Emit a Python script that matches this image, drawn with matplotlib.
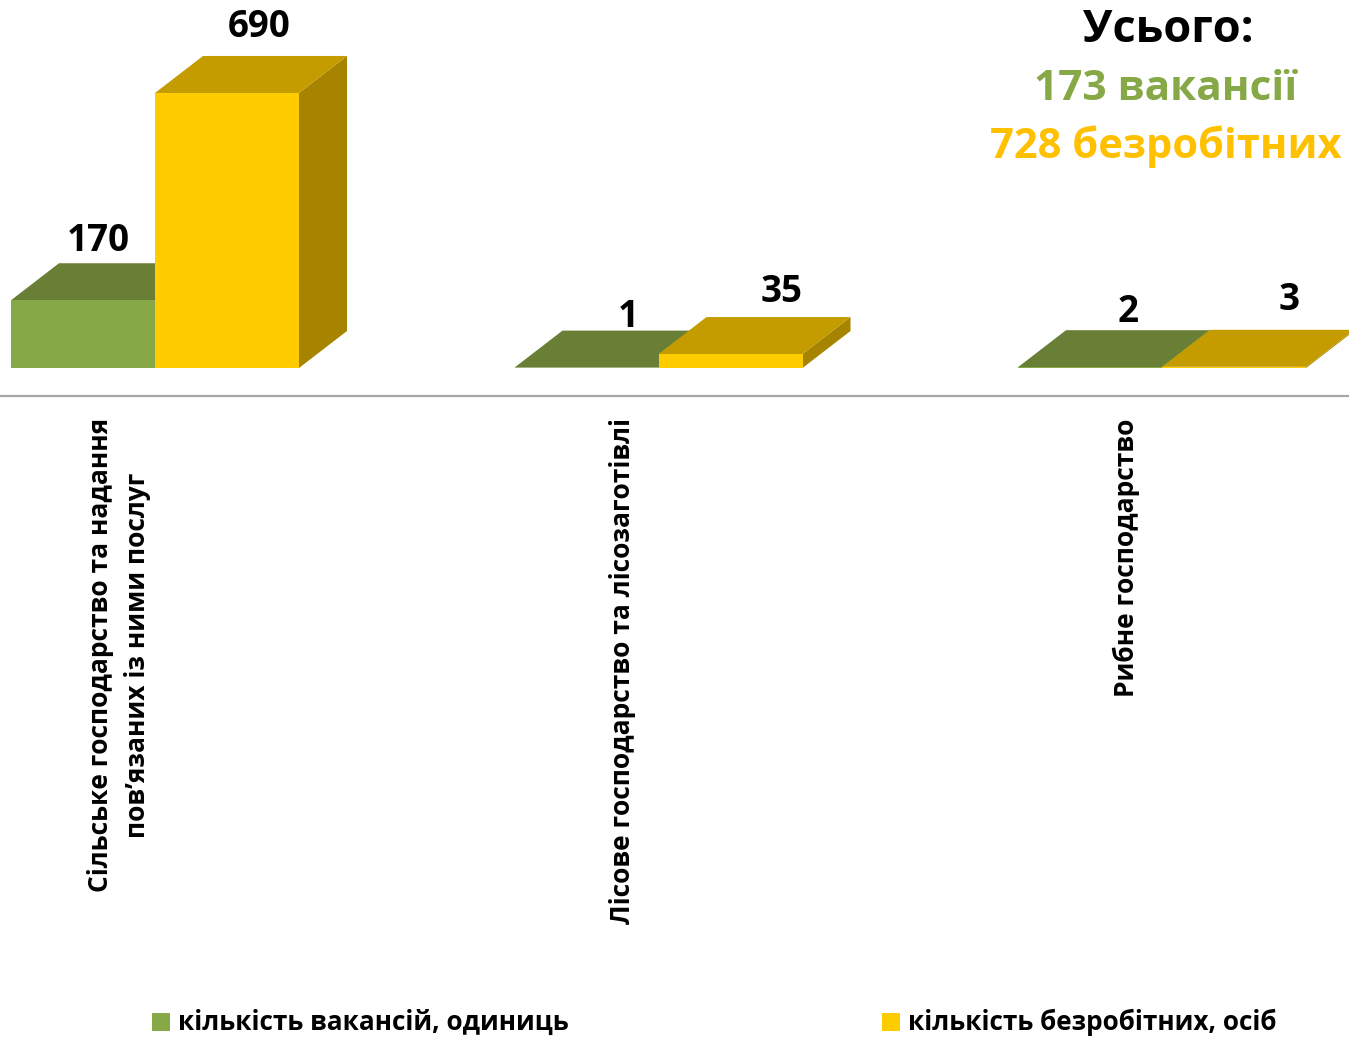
import numpy as np
import matplotlib
matplotlib.use("Agg")
import matplotlib.pyplot as plt
from matplotlib.patches import Polygon, Rectangle

# data
categories = ["Сільське господарство та надання\nпов’язаних із ними послуг",
              "Лісове господарство та лісозаготівлі",
              "Рибне господарство"]
vacancies = [170, 1, 2]
unemployed = [690, 35, 3]
series_names = ["кількість вакансій, одиниць", "кількість безробітних, осіб"]
total_title = "Усього:"
total_vac = "173 вакансії"
total_unemp = "728 безробітних"

# colours: front, top, side
green = ("#86A846", "#687F35", "#5C722E")
yellow = ("#FFCC00", "#C49C00", "#A68400")

plt.rcParams['font.family'] = ['Open Sans', 'DejaVu Sans']
plt.rcParams['font.weight'] = 'bold'

W, H = 1349, 1037
fig = plt.figure(figsize=(W / 100, H / 100), dpi=100)
ax = fig.add_axes([0, 1 - 396 / H, 1, 396 / H])

px_per_unit = 0.3986      # vertical pixels per value unit
px_per_cat = 503.5        # horizontal pixels per category
ax.set_ylim(-28 / px_per_unit, 368 / px_per_unit)
ax.set_xlim(-155 / px_per_cat, (W - 155) / px_per_cat)

bw = 144 / px_per_cat
ddx = 48 / px_per_cat
ddy = 37 / px_per_unit


def bar3d(x0, h, cols):
    x1 = x0 + bw
    front = [(x0, 0), (x1, 0), (x1, h), (x0, h)]
    top = [(x0, h), (x1, h), (x1 + ddx, h + ddy), (x0 + ddx, h + ddy)]
    side = [(x1, 0), (x1 + ddx, ddy), (x1 + ddx, h + ddy), (x1, h)]
    ax.add_patch(Polygon(side, closed=True, fc=cols[2], ec='none'))
    ax.add_patch(Polygon(top, closed=True, fc=cols[1], ec='none'))
    ax.add_patch(Polygon(front, closed=True, fc=cols[0], ec='none'))


# label offsets in pixels (dx, dy) from the back-top centre of each bar
vac_off = [(-9, 12), (18, 4), (14, 8)]
unemp_off = [(8, 19), (27, 15), (31, 20)]

for i in range(len(categories)):
    bar3d(i - bw, vacancies[i], green)
    bar3d(i, unemployed[i], yellow)
    for x0, v, off in [(i - bw, vacancies[i], vac_off[i]), (i, unemployed[i], unemp_off[i])]:
        ax.annotate(str(v), xy=(x0 + bw / 2 + ddx / 2, v + ddy), xytext=off,
                    textcoords='offset pixels', ha='center', va='baseline',
                    fontsize=26.5, fontweight='bold', color='black')

for s in ['top', 'left', 'right']:
    ax.spines[s].set_visible(False)
ax.spines['bottom'].set_color('#A6A6A6')
ax.spines['bottom'].set_linewidth(1.6)
ax.set_yticks([])
ax.set_xticks(np.arange(len(categories)) - 36 / px_per_cat)
ax.set_xticklabels(categories, rotation=90, ha='center', va='top',
                   multialignment='center', fontsize=19, fontweight='bold',
                   linespacing=1.45)
ax.tick_params(axis='x', length=0, pad=16)

# totals
fig.text(1168 / W, 1 - 30 / H, total_title, ha='center', va='center',
         fontsize=32.5, fontweight='bold', color='black')
fig.text(1166 / W, 1 - 90 / H, total_vac, ha='center', va='center',
         fontsize=30.5, fontweight='bold', color='#86A846')
fig.text(1166 / W, 1 - 147 / H, total_unemp, ha='center', va='center',
         fontsize=30, fontweight='bold', color='#FFC000')

# legend
for lx, col, name in [(152, green[0], series_names[0]), (882, yellow[0], series_names[1])]:
    fig.add_artist(Rectangle((lx / W, 1 - 1031 / H), 18 / W, 18 / H,
                             transform=fig.transFigure, fc=col, ec='none'))
    fig.text((lx + 26) / W, 1 - 1022 / H, name, ha='left', va='center',
             fontsize=18.8, fontweight='bold', color='black')

fig.savefig("out.png", dpi=100)
